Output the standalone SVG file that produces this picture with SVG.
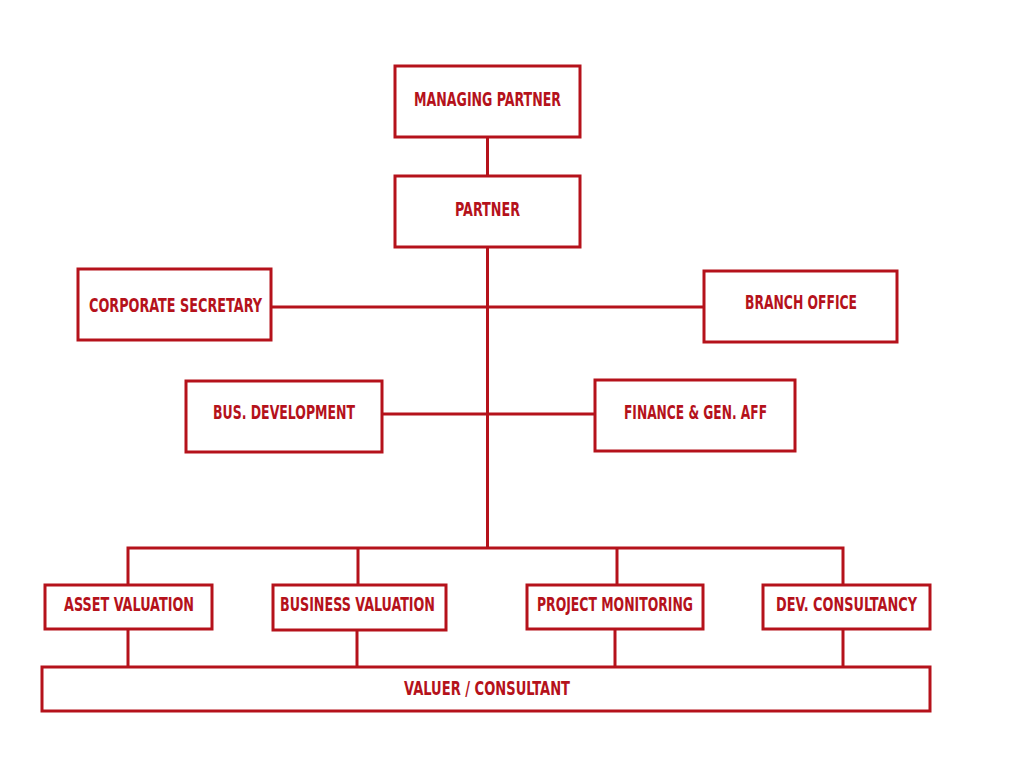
<svg xmlns="http://www.w3.org/2000/svg" width="1024" height="768" viewBox="0 0 1024 768">
  <style>
    .box { fill: #ffffff; stroke: #b5121b; stroke-width: 3; }
    .wire { fill: none; stroke: #b5121b; stroke-width: 3; }
    .label { font-family: "Liberation Sans Narrow", "DejaVu Sans Condensed", "Liberation Sans", sans-serif; font-weight: bold; font-size: 19.5px; fill: #b5121b; text-anchor: middle; }
  </style>
  <rect width="1024" height="768" fill="#ffffff"/>

  <!-- connectors -->
  <g id="connectors" class="wire">
    <line x1="487.5" y1="137" x2="487.5" y2="176"/>
    <line x1="487.5" y1="247" x2="487.5" y2="548"/>
    <line x1="271" y1="307" x2="704" y2="307"/>
    <line x1="382" y1="414" x2="595" y2="414"/>
    <polyline points="128,585 128,548 843,548 843,585"/>
    <line x1="358" y1="548" x2="358" y2="585"/>
    <line x1="617" y1="548" x2="617" y2="585"/>
    <line x1="128" y1="629" x2="128" y2="667"/>
    <line x1="357" y1="630" x2="357" y2="667"/>
    <line x1="615" y1="629" x2="615" y2="667"/>
    <line x1="843" y1="629" x2="843" y2="667"/>
  </g>

  <g id="managing-partner">
    <rect class="box" x="395" y="66" width="185" height="71"/>
    <text class="label" x="487.5" y="106" textLength="147" lengthAdjust="spacingAndGlyphs">MANAGING PARTNER</text>
  </g>
  <g id="partner">
    <rect class="box" x="395" y="176" width="185" height="71"/>
    <text class="label" x="487.5" y="216" textLength="65" lengthAdjust="spacingAndGlyphs">PARTNER</text>
  </g>
  <g id="corporate-secretary">
    <rect class="box" x="78" y="269" width="193" height="71"/>
    <text class="label" x="175.5" y="312" textLength="173" lengthAdjust="spacingAndGlyphs">CORPORATE SECRETARY</text>
  </g>
  <g id="branch-office">
    <rect class="box" x="704" y="271" width="193" height="71"/>
    <text class="label" x="801" y="309" textLength="112" lengthAdjust="spacingAndGlyphs">BRANCH OFFICE</text>
  </g>
  <g id="bus-development">
    <rect class="box" x="186" y="381" width="196" height="71"/>
    <text class="label" x="284" y="419" textLength="142" lengthAdjust="spacingAndGlyphs">BUS. DEVELOPMENT</text>
  </g>
  <g id="finance-gen-aff">
    <rect class="box" x="595" y="380" width="200" height="71"/>
    <text class="label" x="695.5" y="419" textLength="143" lengthAdjust="spacingAndGlyphs">FINANCE &amp; GEN. AFF</text>
  </g>
  <g id="asset-valuation">
    <rect class="box" x="45" y="585" width="167" height="44"/>
    <text class="label" x="129" y="611" textLength="130" lengthAdjust="spacingAndGlyphs">ASSET VALUATION</text>
  </g>
  <g id="business-valuation">
    <rect class="box" x="273" y="585" width="173" height="45"/>
    <text class="label" x="357.5" y="611" textLength="155" lengthAdjust="spacingAndGlyphs">BUSINESS VALUATION</text>
  </g>
  <g id="project-monitoring">
    <rect class="box" x="527" y="585" width="176" height="44"/>
    <text class="label" x="615" y="611" textLength="156" lengthAdjust="spacingAndGlyphs">PROJECT MONITORING</text>
  </g>
  <g id="dev-consultancy">
    <rect class="box" x="763" y="585" width="167" height="44"/>
    <text class="label" x="846.5" y="611" textLength="141" lengthAdjust="spacingAndGlyphs">DEV. CONSULTANCY</text>
  </g>
  <g id="valuer-consultant">
    <rect class="box" x="42" y="667" width="888" height="44"/>
    <text class="label" x="487" y="695" textLength="166" lengthAdjust="spacingAndGlyphs">VALUER / CONSULTANT</text>
  </g>
</svg>
